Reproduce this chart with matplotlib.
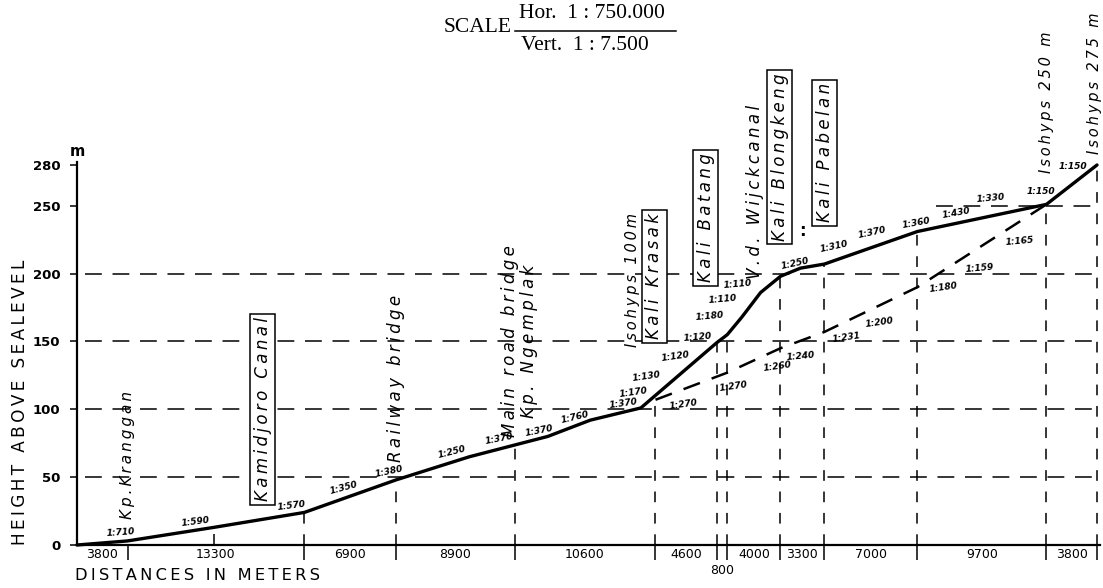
import numpy as np
import matplotlib
matplotlib.use("Agg")
import matplotlib.pyplot as plt
from matplotlib.lines import Line2D

plt.rcParams['font.family'] = ['DejaVu Sans']

# ground profile: distance from start (m) and height above sealevel (m)
profile_dist = [0, 3800, 10300, 17100, 24000, 29500, 35400, 38600, 42400,
                48100, 48900, 50000, 51400, 52900, 54400, 56200, 63200, 72900, 76700]
profile_h = [0, 3, 13, 24, 48, 65, 80, 92, 101,
             149, 155, 168, 186, 198, 204, 207, 231, 251, 280]

# dashed variant between Isohyps 100m and Isohyps 250m
alt_dist = [43500, 48900, 52900, 56200, 63200, 72900]
alt_h = [107, 127, 145, 157, 190, 251]

# stretches along the distance axis
stretches = [3800, 13300, 6900, 8900, 10600, 4600, 800, 4000, 3300, 7000, 9700, 3800]

y_ticks = [0, 50, 100, 150, 200, 250, 280]
grid_levels = [50, 100, 150, 200, 250]
grid_from = [0, 0, 0, 0, 64000]

# slope notes: text, distance, offset from line (px), rotation
solid_slopes = [
    ("1:710", 3300, 9, 4), ("1:590", 8880, 9, 7), ("1:570", 16130, 9, 7),
    ("1:350", 20030, 11, 15), ("1:380", 23480, 11, 12), ("1:250", 28190, 10, 14),
    ("1:370", 31760, 10, 11), ("1:370", 34790, 8, 11), ("1:760", 37440, 9, 13),
    ("1:370", 41080, 9, 8), ("1:170", 41830, 17, 8), ("1:130", 42820, 27, 8),
    ("1:120", 44980, 22, 8), ("1:120", 46690, 22, 5), ("1:180", 47580, 32, 5),
    ("1:110", 48560, 39, 5), ("1:110", 49650, 38, 5), ("1:250", 53970, 7, 12),
    ("1:310", 56950, 14, 12), ("1:370", 59810, 15, 12), ("1:360", 63100, 9, 10),
    ("1:430", 66140, 10, 10), ("1:330", 68690, 18, 5), ("1:150", 72500, 14, 0),
    ("1:150", 74900, 17, 0),
]
alt_slopes = [
    ("1:270", 45580, -15, 8), ("1:270", 49370, -17, 8), ("1:260", 52700, -17, 8),
    ("1:240", 54390, -15, 5), ("1:231", 57860, -16, 8), ("1:200", 60340, -17, 8),
    ("1:180", 65190, -17, 8), ("1:159", 67890, -21, 5), ("1:165", 70910, -20, 5),
]

# place names: text, distance, height of text centre, boxed
places = [
    ("Kp.Kranggan", 3800, 66, False),
    ("Kamidjoro Canal", 13960, 100, True),
    ("Railway bridge", 24000, 123, False),
    ("Main road bridge\nKp. Ngemplak", 33300, 150, False),
    ("Isohyps 100m", 41760, 195, False),
    ("Kali Krasak", 43420, 198, True),
    ("Kali Batang", 47280, 241, True),
    ("V.d. Wijckcanal", 51000, 260, False),
    ("Kali Blongkeng", 52830, 286, True),
    ("Kali Pabelan", 56220, 289, True),
    ("Isohyps 250 m", 72900, 326, False),
    ("Isohyps 275 m", 76500, 340, False),
]

W, H = 1103, 588
fig = plt.figure(figsize=(W / 100, H / 100), dpi=100)
xmax = 76900
ymax = 282
px_x = 1020 / 76700
px_y = 380 / 280
ax = fig.add_axes([77 / W, (H - 545) / H, xmax * px_x / W, ymax * px_y / H])
ax.set_xlim(0, xmax)
ax.set_ylim(0, ymax)

for s in ["top", "right"]:
    ax.spines[s].set_visible(False)
for s in ["left", "bottom"]:
    ax.spines[s].set_linewidth(1.6)

bounds = np.cumsum(stretches)
ax.set_xticks(bounds)
ax.set_xticklabels([])
ax.tick_params(axis="x", direction="out", length=11, width=1.1)
ax.set_xticks([10300], minor=True)
ax.tick_params(axis="x", which="minor", direction="in", length=8, width=1.1)
ax.set_yticks(y_ticks)
ax.set_yticklabels([str(v) for v in y_ticks], fontweight="bold", fontsize=9.5)
ax.tick_params(axis="y", direction="out", length=5, width=1.1, pad=7)


def spaced(s):
    return "\u2009".join(s)


# horizontal dashed levels
for lev, x0 in zip(grid_levels, grid_from):
    ax.plot([x0 + 600, xmax], [lev, lev], color="k", lw=1.1,
            linestyle=(0, (11, 7)), zorder=1)

# vertical dashed lines up to the profile
for b in bounds[1:]:
    top = np.interp(b, profile_dist, profile_h)
    ax.plot([b, b], [0, top], color="k", lw=1.1, linestyle=(0, (7, 7)), zorder=1)

ax.plot(profile_dist, profile_h, color="k", lw=2.4, solid_capstyle="round",
        zorder=4, clip_on=False)
ax.plot(alt_dist, alt_h, color="k", lw=1.8, linestyle=(0, (7, 5)), zorder=4)

for text, d, dy, rot in solid_slopes:
    h = np.interp(d, profile_dist, profile_h)
    ax.annotate(text, (d, h), xytext=(0, dy), textcoords="offset pixels",
                ha="center", va="center", rotation=rot, fontsize=6.5,
                fontstyle="italic", fontweight="bold", zorder=6)
for text, d, dy, rot in alt_slopes:
    h = np.interp(d, alt_dist, alt_h)
    ax.annotate(text, (d, h), xytext=(0, dy), textcoords="offset pixels",
                ha="center", va="center", rotation=rot, fontsize=6.5,
                fontstyle="italic", fontweight="bold", zorder=6)

for text, d, hc, boxed in places:
    kw = {}
    if boxed:
        kw["bbox"] = dict(boxstyle="square,pad=0.2", fc="white", ec="k", lw=1.1)
    size = 10.5 if text.startswith("Isohyps") else 12
    if text.startswith("Kp.K"):
        size = 11
    label = "\n".join(spaced(part) for part in text.split("\n"))
    ax.text(d, hc, label, rotation=90, ha="center", va="center",
            multialignment="center", fontsize=size, fontstyle="italic",
            linespacing=1.05, zorder=7, **kw)
ax.text(54550, 231, ":", ha="center", va="center", fontsize=12,
        fontweight="bold", zorder=7)

# distance labels under the axis
starts = np.concatenate([[0], bounds[:-1]])
for a, b, s in zip(starts, bounds, stretches):
    dy = -14 if s == 800 else -2
    ax.annotate(str(s), ((a + b) / 2, 0), xytext=(0, dy), textcoords="offset points",
                ha="center", va="top", fontsize=9, annotation_clip=False)

ax.annotate("m", (0, 280), xytext=(0, 13), textcoords="offset pixels",
            ha="center", va="center", fontsize=10.5, fontweight="bold",
            annotation_clip=False)

fig.text(75 / W, 1 - 575 / H, spaced("DISTANCES IN METERS"), ha="left",
         va="center", fontsize=11.7)
fig.text(20 / W, 1 - 402 / H, spaced("HEIGHT ABOVE SEALEVEL"), rotation=90,
         ha="center", va="center", fontsize=12.2)

serif = ["Liberation Serif", "DejaVu Serif"]
fig.text(512 / W, 1 - 28 / H, "SCALE", ha="right", va="center", fontsize=15.5,
         family=serif)
fig.text(519 / W, 1 - 14 / H, "Hor.  1 : 750.000", ha="left", va="center",
         fontsize=15.5, family=serif)
fig.text(521 / W, 1 - 46 / H, "Vert.  1 : 7.500", ha="left", va="center",
         fontsize=15.5, family=serif)
fig.add_artist(Line2D([515 / W, 676 / W], [1 - 30.5 / H, 1 - 30.5 / H],
                      color="k", lw=1.1, transform=fig.transFigure))

fig.savefig("out.png", dpi=100, facecolor="white")
